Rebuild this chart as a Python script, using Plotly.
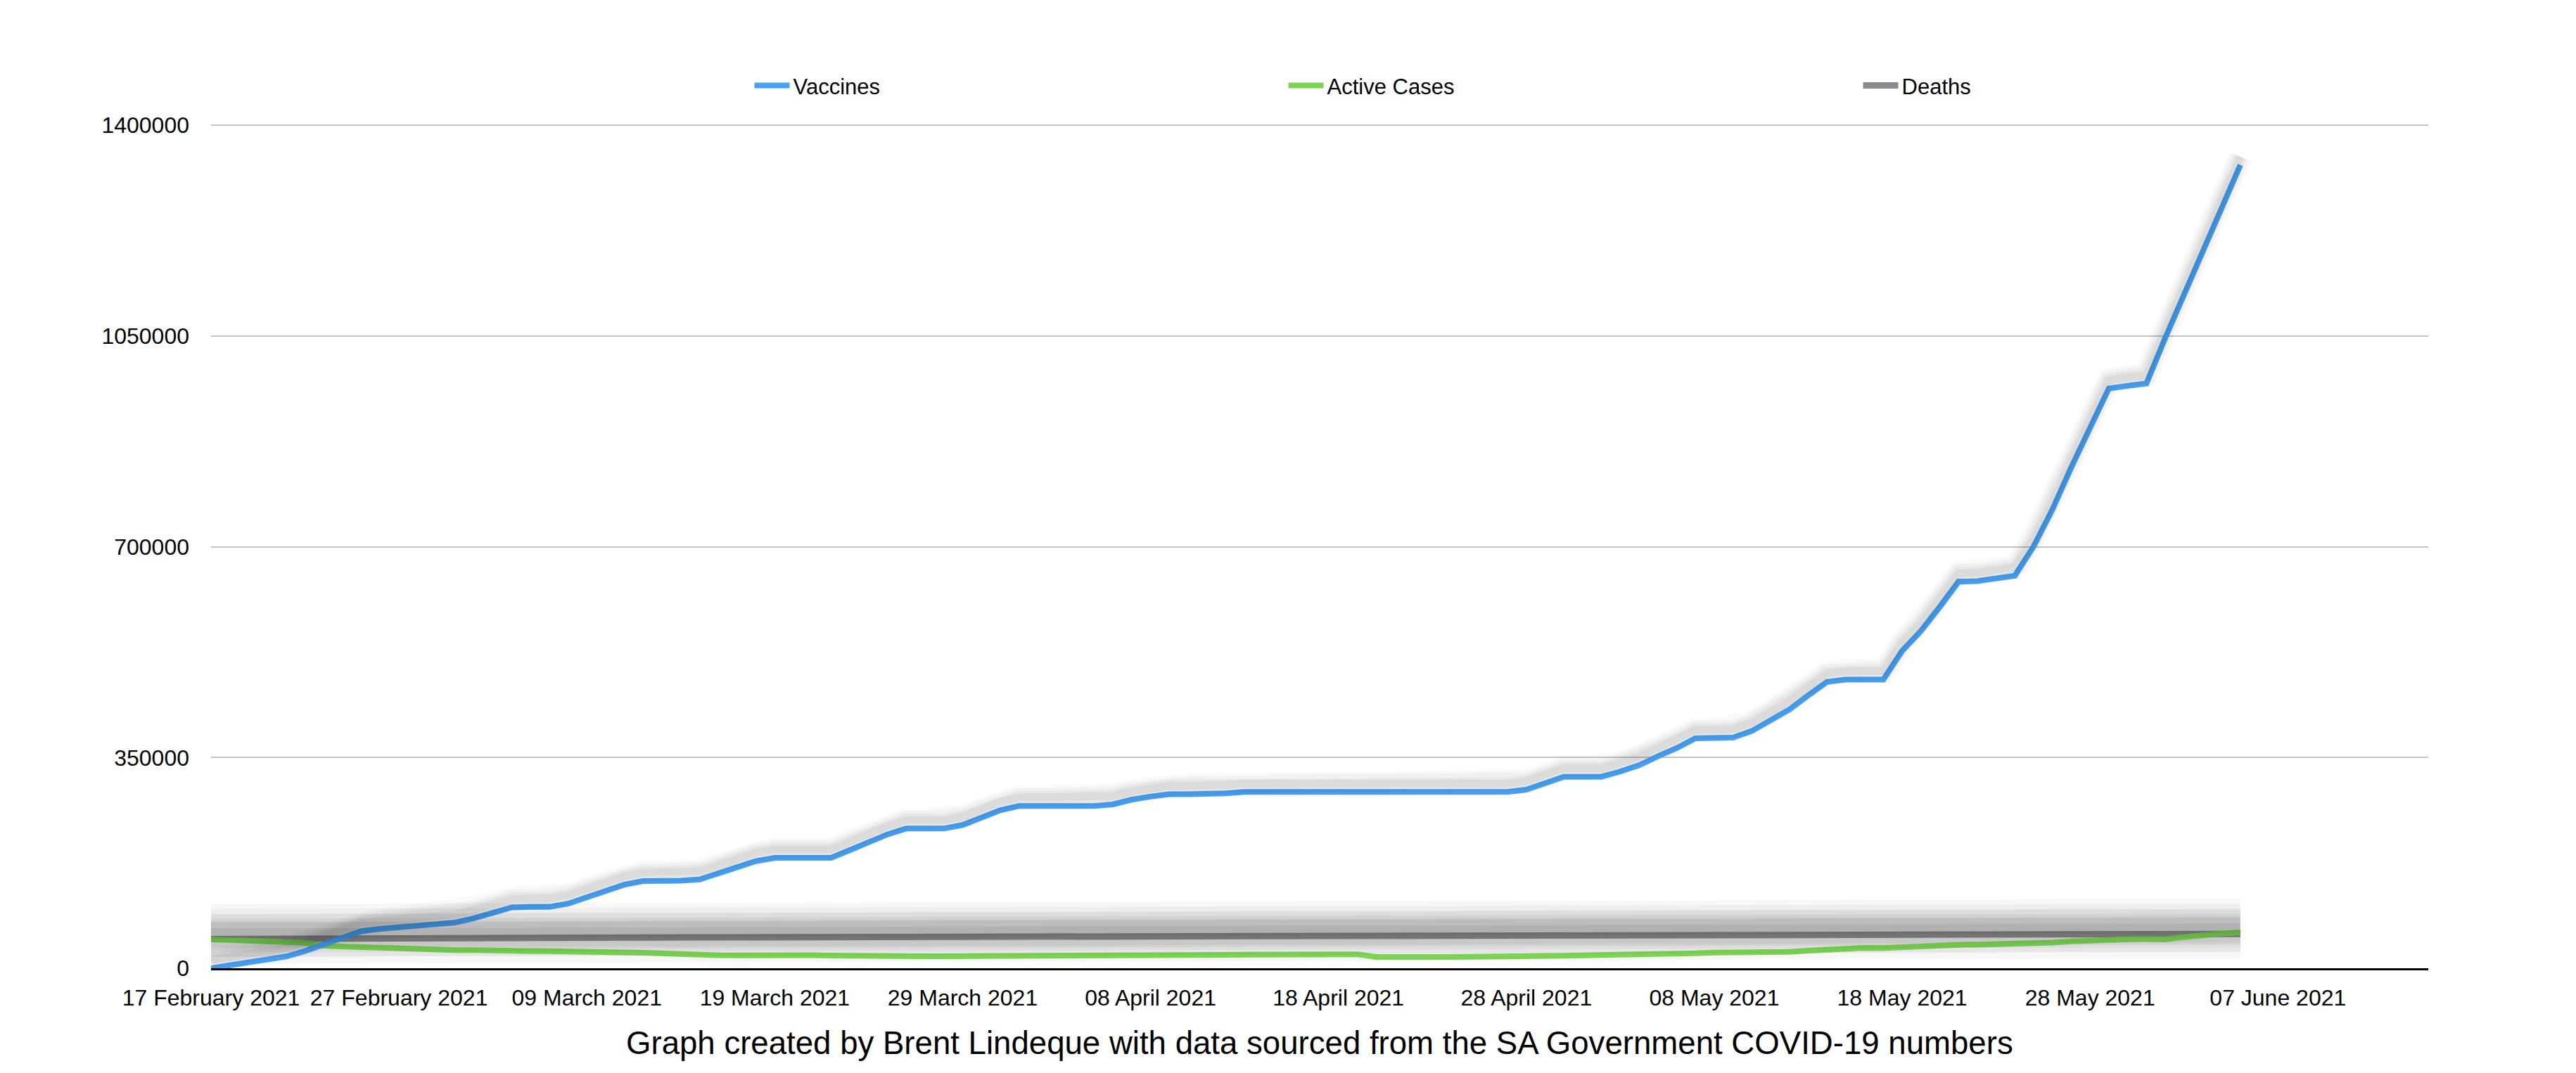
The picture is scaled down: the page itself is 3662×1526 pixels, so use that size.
import pandas as pd
import plotly.graph_objects as go

# daily values, 17 Feb 2021 .. 05 Jun 2021
start_date = "2021-02-17"

vaccines = [
    0, 5000, 9000, 13600, 19500, 28500, 39400, 50700, 61600, 65500,
    68300, 71400, 73300, 76000, 83000, 92000, 101000, 101800, 101800, 107200,
    118200, 129000, 138800, 144700, 144700, 145500, 147400, 157200, 168900, 177800,
    183300, 183300, 183300, 183300, 196200, 209800, 222300, 232000, 232000, 232000,
    237900, 249600, 262500, 269500, 269500, 269500, 269500, 269500, 272200, 280000,
    285100, 289000, 289000, 289000, 290600, 292900, 292900, 292900, 292900, 292900,
    292900, 292900, 292900, 292900, 292900, 292900, 292900, 292900, 292900, 292900,
    296700, 306400, 318100, 318100, 318100, 326700, 337200, 351900, 365600, 381900,
    381900, 383100, 394000, 412200, 429700, 453100, 475600, 479500, 479500, 479500,
    527000, 560000, 600000, 642000, 643000, 647500, 652000, 700600, 762000, 831800,
    898700, 962900, 967400, 971300, 1046700, 1119200, 1194600, 1264400, 1334100,
]

active_cases = [
    48000, 47200, 46000, 44800, 43600, 42200, 37500, 35200, 35000, 34300,
    32800, 32000, 31200, 30000, 30000, 29800, 29800, 29300, 28500, 28100,
    26900, 26500, 26300, 25700, 24200, 23800, 23400, 21500, 21400, 21800,
    22200, 22000, 21600, 21000, 20300, 20000, 20500, 20100, 19800, 19900,
    20000, 19900, 20200, 21000, 21500, 21800, 21600, 21300, 21000, 20900,
    20700, 20800, 21100, 21300, 21500, 21200, 21000, 20900, 21900, 22600,
    23300, 23200, 18700, 19500, 19200, 18800, 18700, 18700, 18900, 19200,
    20000, 20400, 20800, 21400, 21700, 21900, 22200, 23000, 24500, 24700,
    26100, 25900, 25500, 25300, 27200, 29200, 31000, 32500, 33800, 33500,
    35400, 37300, 38200, 38900, 39200, 39600, 40200, 40800, 42600, 44700,
    46400, 47800, 48300, 48600, 47800, 51800, 55600, 57600, 59500,
]

deaths = [
    48500, 48710, 48940, 49150, 49310, 49410, 49670, 49780, 49940, 49990,
    50080, 50210, 50360, 50460, 50550, 50680, 50730, 50760, 50800, 50900,
    51020, 51110, 51170, 51220, 51260, 51330, 51400, 51420, 51460, 51540,
    51650, 51720, 51860, 51980, 52080, 52150, 52290, 52400, 52420, 52470,
    52600, 52680, 52790, 52880, 52900, 52950, 53030, 53110, 53170, 53230,
    53260, 53310, 53360, 53390, 53420, 53500, 53530, 53590, 53650, 53700,
    53760, 53800, 53840, 53880, 53940, 54010, 54060, 54120, 54150, 54190,
    54240, 54290, 54330, 54370, 54400, 54450, 54520, 54560, 54610, 54650,
    54690, 54720, 54760, 54810, 54870, 54930, 54990, 55050, 55100, 55160,
    55260, 55350, 55440, 55510, 55600, 55690, 55770, 55870, 55970, 56080,
    56180, 56290, 56360, 56440, 56510, 56620, 56720, 56840, 56940,
]

y_ticks = [0, 350000, 700000, 1050000, 1400000]
footer = "Graph created by Brent Lindeque with data sourced from the SA Government COVID-19 numbers"

dates = pd.date_range(start_date, periods=len(vaccines), freq="D")

BLUE = "#49a2f5"
GREEN = "#7bd254"
GREY = "#8a8a8a"
FONT = "Liberation Sans"
Y_TOP = 1401500
SHADOW_SHIFT = 14000   # lifts the shadow copy ~12px above the line

fig = go.Figure()

# Numbers-style soft shadows: faint wide copies on a shifted overlay axis
for w, a in [(76, 0.03), (62, 0.035), (48, 0.04), (34, 0.05), (22, 0.06)]:
    fig.add_trace(go.Scatter(x=dates, y=deaths, mode="lines", showlegend=False,
                             hoverinfo="skip", yaxis="y2",
                             line=dict(color=f"rgba(0,0,0,{a})", width=w)))
for w, a in [(70, 0.03), (50, 0.035), (30, 0.05)]:
    fig.add_trace(go.Scatter(x=dates, y=deaths, mode="lines", showlegend=False,
                             hoverinfo="skip",
                             line=dict(color=f"rgba(0,0,0,{a})", width=w)))
fig.add_trace(go.Scatter(x=dates, y=deaths, mode="lines", name="Deaths",
                         legend="legend3", line=dict(color=GREY, width=9)))

fig.add_trace(go.Scatter(x=dates, y=active_cases, mode="lines", name="Active Cases",
                         legend="legend2", line=dict(color=GREEN, width=8)))

for w, a in [(34, 0.025), (26, 0.03), (18, 0.04), (11, 0.05)]:
    fig.add_trace(go.Scatter(x=dates, y=vaccines, mode="lines", showlegend=False,
                             hoverinfo="skip", yaxis="y2",
                             line=dict(color=f"rgba(0,0,0,{a})", width=w)))
fig.add_trace(go.Scatter(x=dates, y=vaccines, mode="lines", name="Vaccines",
                         legend="legend", line=dict(color=BLUE, width=8)))


def legend_box(x):
    return dict(orientation="h", x=x, xanchor="left", y=1.046, yanchor="middle",
                font=dict(family=FONT, size=31), itemwidth=50,
                bgcolor="rgba(0,0,0,0)")


fig.update_layout(
    width=3646,
    height=1510,
    paper_bgcolor="white",
    plot_bgcolor="white",
    font=dict(family=FONT, size=31, color="black"),
    margin=dict(l=292, r=202, t=169, b=141),
    showlegend=True,
    legend=legend_box(0.2435),
    legend2=legend_box(0.4843),
    legend3=legend_box(0.7435),
    yaxis2=dict(overlaying="y", range=[-SHADOW_SHIFT, Y_TOP - SHADOW_SHIFT],
                visible=False, showgrid=False),
    annotations=[
        dict(text=footer, x=0.5, y=-0.089, xref="paper", yref="paper",
             xanchor="center", yanchor="middle", showarrow=False,
             font=dict(family=FONT, size=45.6, color="black"))
    ],
)

fig.update_xaxes(
    type="date",
    range=["2021-02-17", "2021-06-15"],
    tick0="2021-02-17",
    dtick=10 * 86400000,
    tickformat="%d %B %Y",
    tickfont=dict(size=32),
    showgrid=False,
    showline=True,
    linecolor="black",
    linewidth=3,
    ticks="",
    ticklabelstandoff=12,
    zeroline=False,
)

fig.update_layout(yaxis=dict(
    range=[0, Y_TOP],
    tickvals=y_ticks,
    tickformat="d",
    tickfont=dict(size=32),
    showgrid=True,
    gridcolor="#c4c4c4",
    gridwidth=2,
    zeroline=False,
    showline=False,
    ticks="",
    ticklabelstandoff=30,
))

fig.write_html("out.html")
